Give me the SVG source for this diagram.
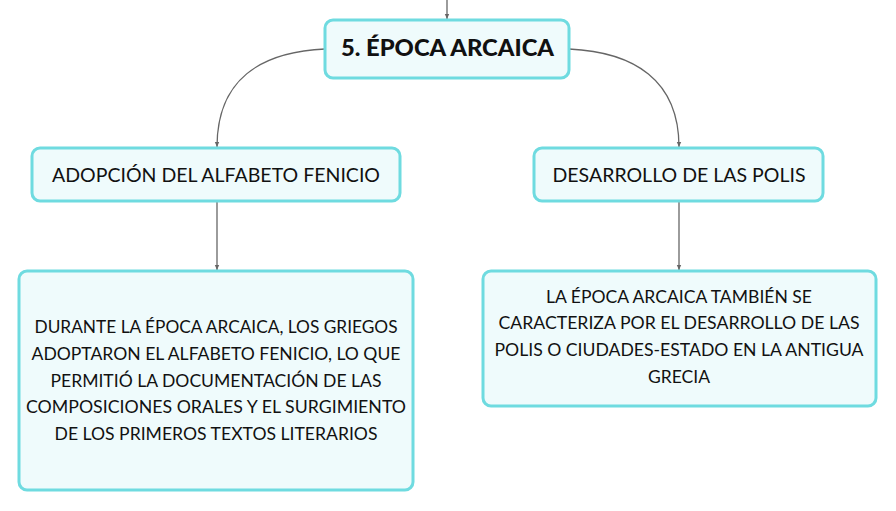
<svg xmlns="http://www.w3.org/2000/svg" width="896" height="511" viewBox="0 0 896 511">
<defs>
<style>
.box{fill:#effbfc;stroke:#6fdbe0;stroke-width:3}
.t{font-family:Lato,"Noto Sans",sans-serif;fill:#111;text-anchor:middle}
.h{font-size:22.5px;font-weight:900}
.m{font-size:19.5px}
.b{font-size:17px}
.c{fill:none;stroke:#666;stroke-width:1.3}
</style>
<marker id="ah" markerWidth="6" markerHeight="6" refX="5" refY="3" orient="auto" markerUnits="userSpaceOnUse">
<path d="M0,0.8 L5,3 L0,5.2 Z" fill="#666"/>
</marker>
</defs>
<rect width="896" height="511" fill="#fff"/>
<g id="connectors">
<path class="c" d="M447,0 L447,19" marker-end="url(#ah)"/>
<path class="c" d="M325,49 C260,52 217,80 217,147" marker-end="url(#ah)"/>
<path class="c" d="M569,49 C634,52 679,80 679,147" marker-end="url(#ah)"/>
<path class="c" d="M217,201 L217,270" marker-end="url(#ah)"/>
<path class="c" d="M679,201 L679,270" marker-end="url(#ah)"/>
</g>
<g id="n-epoca">
<rect class="box" x="325" y="20" width="244" height="58" rx="8"/>
<text class="t h" x="447.5" y="56" textLength="213" lengthAdjust="spacingAndGlyphs">5. ÉPOCA ARCAICA</text>
</g>
<g id="n-alfabeto">
<rect class="box" x="32" y="148" width="368" height="53" rx="8"/>
<text class="t m" x="216" y="182" textLength="328" lengthAdjust="spacingAndGlyphs">ADOPCIÓN DEL ALFABETO FENICIO</text>
</g>
<g id="n-polis">
<rect class="box" x="534" y="148" width="289" height="53" rx="8"/>
<text class="t m" x="679" y="182" textLength="253" lengthAdjust="spacingAndGlyphs">DESARROLLO DE LAS POLIS</text>
</g>
<g id="n-alfabeto-desc">
<rect class="box" x="19" y="271" width="394" height="219" rx="8"/>
<text class="t b" x="216" y="333" textLength="363" lengthAdjust="spacingAndGlyphs">DURANTE LA ÉPOCA ARCAICA, LOS GRIEGOS</text>
<text class="t b" x="216" y="360" textLength="369" lengthAdjust="spacingAndGlyphs">ADOPTARON EL ALFABETO FENICIO, LO QUE</text>
<text class="t b" x="216" y="387" textLength="331" lengthAdjust="spacingAndGlyphs">PERMITIÓ LA DOCUMENTACIÓN DE LAS</text>
<text class="t b" x="216" y="413" textLength="380" lengthAdjust="spacingAndGlyphs">COMPOSICIONES ORALES Y EL SURGIMIENTO</text>
<text class="t b" x="216" y="440" textLength="323" lengthAdjust="spacingAndGlyphs">DE LOS PRIMEROS TEXTOS LITERARIOS</text>
</g>
<g id="n-polis-desc">
<rect class="box" x="483" y="271" width="393" height="135" rx="8"/>
<text class="t b" x="679" y="303" textLength="266" lengthAdjust="spacingAndGlyphs">LA ÉPOCA ARCAICA TAMBIÉN SE</text>
<text class="t b" x="679" y="329" textLength="361" lengthAdjust="spacingAndGlyphs">CARACTERIZA POR EL DESARROLLO DE LAS</text>
<text class="t b" x="679" y="356" textLength="369" lengthAdjust="spacingAndGlyphs">POLIS O CIUDADES-ESTADO EN LA ANTIGUA</text>
<text class="t b" x="679" y="383" textLength="62" lengthAdjust="spacingAndGlyphs">GRECIA</text>
</g>
</svg>
